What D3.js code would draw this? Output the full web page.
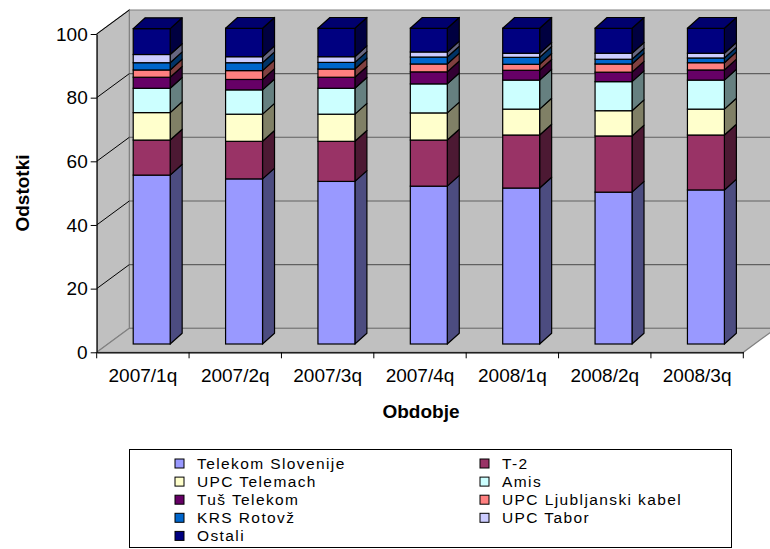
<!DOCTYPE html>
<html>
<head>
<meta charset="utf-8">
<script src="https://cdn.jsdelivr.net/npm/d3@7"></script>
<style>
  body { margin: 0; background: #fff; }
  text { font-family: "Liberation Sans", Arial, sans-serif; fill: #000; }
</style>
</head>
<body>
<div id="chart"></div>
<script>
// data (percent shares per quarter)
var categories = ["2007/1q", "2007/2q", "2007/3q", "2007/4q", "2008/1q", "2008/2q", "2008/3q"];
var seriesNames = ["Telekom Slovenije", "T-2", "UPC Telemach", "Amis", "Tuš Telekom",
                   "UPC Ljubljanski kabel", "KRS Rotovž", "UPC Tabor", "Ostali"];
var telekom     = [53.5, 52.3, 51.5, 50.0, 49.4, 48.1, 48.8];
var t2          = [11.1, 11.9, 12.7, 14.6, 16.8, 17.8, 17.4];
var upcTelemach = [8.7, 8.6, 8.6, 8.6, 8.2, 8.0, 8.2];
var amis        = [7.7, 7.7, 8.2, 9.2, 9.2, 9.2, 9.2];
var tus         = [3.5, 3.3, 3.5, 3.8, 3.1, 3.0, 3.2];
var upcLj       = [2.3, 2.8, 2.6, 2.5, 1.9, 2.6, 2.3];
var krs         = [2.3, 2.5, 2.1, 2.2, 2.2, 1.5, 1.5];
var upcTabor    = [2.6, 1.9, 1.8, 1.6, 1.3, 1.9, 1.5];
var ostali      = [8.2, 9.0, 9.0, 7.5, 7.9, 7.9, 7.9];
var yTicks = [0, 20, 40, 60, 80, 100];

var seriesValues = [telekom, t2, upcTelemach, amis, tus, upcLj, krs, upcTabor, ostali];
var frontColors = ["#9999FF", "#993366", "#FFFFCC", "#CCFFFF", "#660066", "#FF8080", "#0066CC", "#CCCCFF", "#000080"];
var sideColors  = ["#4C4C80", "#4C1933", "#808066", "#668080", "#330033", "#804040", "#003366", "#666680", "#000040"];
var topColor = "#00006E";

var w = 770, h = 549;
var svg = d3.select("#chart").append("svg")
    .attr("width", w)
    .attr("height", h);

// build table for stacking
var keys = seriesNames;
var table = categories.map(function (c, i) {
    var row = { cat: c };
    keys.forEach(function (k, j) { row[k] = seriesValues[j][i]; });
    return row;
});
var stacked = d3.stack().keys(keys)(table);

// scales
var x = d3.scaleBand().domain(categories).range([96.7, 743.3]).padding(0);
var y = d3.scaleLinear().domain([0, 100]).range([352.3, 34]);      // front axis plane
var yBar = d3.scaleLinear().domain([0, 100]).range([344, 28.3]);   // bar front faces
var depth = { dx: 32.6, dy: -24 };   // wall depth
var bar = { dx: 12, dy: -10.8, shift: 8.8 };
var barW = x.bandwidth() * 0.4;

var x0 = x.range()[0], x1 = x.range()[1];

// WALLS
var walls = svg.append("g");
// back wall
walls.append("polygon")
    .attr("points", [[x0 + depth.dx, y(100) + depth.dy], [w + 10, y(100) + depth.dy],
                     [w + 10, y(0) + depth.dy], [x0 + depth.dx, y(0) + depth.dy]].join(" "))
    .attr("fill", "#C0C0C0").attr("stroke", "#808080").attr("stroke-width", 1.2);
// side wall
walls.append("polygon")
    .attr("points", [[x0, y(100)], [x0 + depth.dx, y(100) + depth.dy],
                     [x0 + depth.dx, y(0) + depth.dy], [x0, y(0)]].join(" "))
    .attr("fill", "#C0C0C0").attr("stroke", "#808080").attr("stroke-width", 1.2);
// floor
walls.append("polygon")
    .attr("points", [[x0, y(0)], [x1, y(0)], [x1 + depth.dx, y(0) + depth.dy],
                     [x0 + depth.dx, y(0) + depth.dy]].join(" "))
    .attr("fill", "#C0C0C0").attr("stroke", "#808080").attr("stroke-width", 1.2);

// gridlines: on back wall and diagonals on side wall
yTicks.forEach(function (t) {
    if (t > 0 && t < 100) {
        walls.append("line")
            .attr("x1", x0 + depth.dx).attr("x2", w + 10)
            .attr("y1", y(t) + depth.dy).attr("y2", y(t) + depth.dy)
            .attr("stroke", "#606060").attr("stroke-width", 1.1);
    }
    if (t > 0) {
        walls.append("line")
            .attr("x1", x0).attr("y1", y(t))
            .attr("x2", x0 + depth.dx).attr("y2", y(t) + depth.dy)
            .attr("stroke", "#000").attr("stroke-width", 1);
    }
});

// BARS
var bars = svg.append("g");
categories.forEach(function (c, i) {
    var xl = x(c) + x.bandwidth() / 2 + bar.shift - barW / 2;
    var xr = xl + barW;
    var g = bars.append("g");
    stacked.forEach(function (s, j) {
        var y0 = yBar(s[i][0]), y1 = yBar(s[i][1]);
        g.append("polygon")
            .attr("points", [[xr, y1], [xr + bar.dx, y1 + bar.dy], [xr + bar.dx, y0 + bar.dy], [xr, y0]].join(" "))
            .attr("fill", sideColors[j]).attr("stroke", "#000").attr("stroke-width", 1.2)
            .attr("stroke-linejoin", "round");
    });
    stacked.forEach(function (s, j) {
        var y0 = yBar(s[i][0]), y1 = yBar(s[i][1]);
        g.append("rect")
            .attr("x", xl).attr("y", y1)
            .attr("width", barW).attr("height", y0 - y1)
            .attr("fill", frontColors[j]).attr("stroke", "#000").attr("stroke-width", 1.2);
    });
    var yt = yBar(stacked[stacked.length - 1][i][1]);
    g.append("polygon")
        .attr("points", [[xl, yt], [xl + bar.dx, yt + bar.dy], [xr + bar.dx, yt + bar.dy], [xr, yt]].join(" "))
        .attr("fill", topColor).attr("stroke", "#000").attr("stroke-width", 1.2)
        .attr("stroke-linejoin", "round");
});

// AXES
var yAxis = svg.append("g")
    .attr("transform", "translate(" + x0 + ",0)")
    .call(d3.axisLeft(y).tickValues(yTicks).tickSize(6).tickSizeOuter(0).tickPadding(3));
yAxis.select(".domain").attr("stroke", "#000");
yAxis.selectAll("line").attr("stroke", "#000");
yAxis.selectAll("text").style("font-size", "19px").attr("fill", "#000");

var xAxis = svg.append("g")
    .attr("transform", "translate(0," + y(0) + ")")
    .call(d3.axisBottom(x).tickSize(0).tickSizeOuter(0).tickPadding(16));
xAxis.select(".domain").attr("stroke", "#000").attr("stroke-width", 1.2);
xAxis.selectAll("text").style("font-size", "19px").attr("fill", "#000");
// category boundary ticks
xAxis.selectAll(".bound")
    .data(categories.map(function (c) { return x(c); }).concat([x1]))
    .enter().append("line")
    .attr("class", "bound")
    .attr("x1", function (d) { return d; }).attr("x2", function (d) { return d; })
    .attr("y1", 0).attr("y2", 6)
    .attr("stroke", "#000");

// axis titles
svg.append("text")
    .attr("transform", "translate(22,193) rotate(-90)")
    .attr("text-anchor", "middle").attr("dy", "0.35em")
    .style("font-size", "19px").style("font-weight", "bold")
    .text("Odstotki");
svg.append("text")
    .attr("x", 421).attr("y", 411)
    .attr("text-anchor", "middle").attr("dy", "0.35em")
    .style("font-size", "19px").style("font-weight", "bold")
    .text("Obdobje");

// LEGEND
var legend = svg.append("g");
legend.append("rect")
    .attr("x", 129.5).attr("y", 449.5)
    .attr("width", 602).attr("height", 98)
    .attr("fill", "#fff").attr("stroke", "#000").attr("stroke-width", 1);
seriesNames.forEach(function (name, j) {
    var col = j % 2, row = Math.floor(j / 2);
    var cy = 463.5 + row * 18.1;
    var sx = col === 0 ? 175 : 480;
    legend.append("rect")
        .attr("x", sx).attr("y", cy - 4.5)
        .attr("width", 9).attr("height", 9)
        .attr("fill", frontColors[j]).attr("stroke", "#000").attr("stroke-width", 1);
    legend.append("text")
        .attr("x", sx + 22).attr("y", cy)
        .attr("dy", "0.35em")
        .style("font-size", "15.5px")
        .style("letter-spacing", "1.4px")
        .text(name);
});
</script>
</body>
</html>
